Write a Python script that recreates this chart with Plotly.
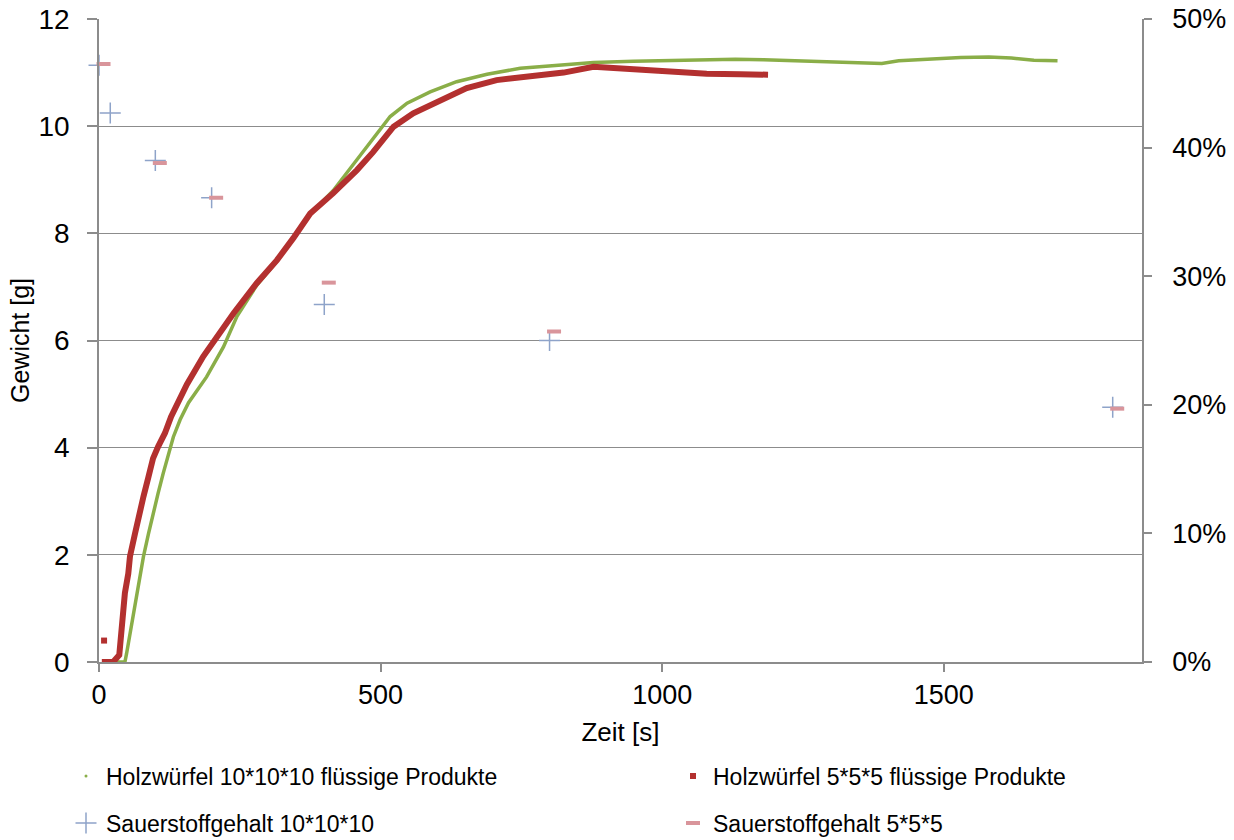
import plotly.graph_objects as go

# ---- data ----
green_t = [25, 46, 49, 55, 61, 67, 73, 79, 88, 96, 105, 114, 123, 132, 144, 159, 191, 221,
           245, 280, 316, 345, 375, 416, 458, 499, 517, 547, 588, 635, 689, 748, 813, 878,
           949, 1020, 1080, 1130, 1180, 1250, 1320, 1390, 1420, 1470, 1530, 1580, 1620, 1660, 1702]
green_w = [0.0, 0.0, 0.16, 0.54, 0.91, 1.28, 1.65, 1.97, 2.40, 2.77, 3.15, 3.52, 3.89, 4.20, 4.52, 4.84, 5.32, 5.88,
           6.45, 7.03, 7.48, 7.90, 8.36, 8.80, 9.37, 9.93, 10.18, 10.43, 10.64, 10.83, 10.97, 11.08, 11.14, 11.19,
           11.21, 11.22, 11.24, 11.25, 11.24, 11.22, 11.20, 11.17, 11.22, 11.25, 11.28, 11.29, 11.27, 11.23, 11.22]

red_t = [5, 25, 36, 40, 43, 46, 52, 55, 64, 70, 79, 88, 96, 105, 117, 128, 156, 185, 209, 239, 280,
         316, 345, 375, 416, 458, 487, 523, 558, 606, 653, 706, 766, 825, 878, 925, 973, 1020, 1079, 1139, 1188]
red_w = [0.0, 0.0, 0.13, 0.66, 0.91, 1.29, 1.65, 1.97, 2.40, 2.71, 3.09, 3.46, 3.80, 4.02, 4.27, 4.58, 5.18, 5.70,
         6.07, 6.51, 7.07, 7.50, 7.91, 8.37, 8.75, 9.18, 9.52, 9.99, 10.24, 10.49, 10.71, 10.86, 10.94, 11.00,
         11.11, 11.08, 11.04, 11.01, 10.98, 10.97, 10.96]
red_extra_t = [9]
red_extra_w = [0.40]

o2_big_t = [0, 20, 100, 200, 400, 800, 1800]
o2_big = [0.464, 0.427, 0.390, 0.361, 0.278, 0.250, 0.198]
o2_small_t = [8, 108, 208, 408, 808, 1808]
o2_small = [0.465, 0.388, 0.361, 0.295, 0.257, 0.197]

o2_ticks = [0, 0.1, 0.2, 0.3, 0.4, 0.5]
o2_ticklabels = ["0%", "10%", "20%", "30%", "40%", "50%"]

names = ["Holzwürfel 10*10*10 flüssige Produkte", "Holzwürfel 5*5*5 flüssige Produkte",
         "Sauerstoffgehalt 10*10*10", "Sauerstoffgehalt 5*5*5"]

GREEN = "#8AAE48"
RED = "#B3302F"
BLUE = "#8EA3C9"
PINK = "#D9959B"
GRID = "#8C8C8C"
FONT = "Liberation Sans, Arial, sans-serif"

fig = go.Figure()

# curves
fig.add_trace(go.Scatter(x=green_t, y=green_w, mode="lines", line=dict(color=GREEN, width=3.5),
                         showlegend=False, cliponaxis=False))
fig.add_trace(go.Scatter(x=red_t, y=red_w, mode="lines", line=dict(color=RED, width=6),
                         showlegend=False, cliponaxis=False))
fig.add_trace(go.Scatter(x=red_extra_t, y=red_extra_w, mode="markers",
                         marker=dict(symbol="square", size=6, color=RED),
                         showlegend=False, cliponaxis=False))
# oxygen
fig.add_trace(go.Scatter(x=o2_big_t, y=o2_big, yaxis="y2", mode="markers", name=names[2],
                         marker=dict(symbol="cross-thin", size=15, line=dict(color=BLUE, width=1.5)),
                         legend="legend3", cliponaxis=False))
fig.add_trace(go.Scatter(x=o2_small_t, y=o2_small, yaxis="y2", mode="markers", name=names[3],
                         marker=dict(symbol="line-ew", size=10, line=dict(color=PINK, width=4)),
                         legend="legend4", cliponaxis=False))

# legend entries for curves
fig.add_trace(go.Scatter(x=[None], y=[None], mode="markers", name=names[0],
                         marker=dict(symbol="circle", size=3, color=GREEN), legend="legend"))
fig.add_trace(go.Scatter(x=[None], y=[None], mode="markers", name=names[1],
                         marker=dict(symbol="square", size=6, color=RED), legend="legend2"))

legfont = dict(family=FONT, size=23, color="black")
def leg(x, y):
    return dict(x=x, y=y, xanchor="left", yanchor="middle", font=legfont,
                bgcolor="rgba(0,0,0,0)", borderwidth=0)

L, R, T, B = 99, 92, 19, 178
W, H = 1234, 840
pw, ph = W - L - R, H - T - B
def px2x(px): return (px - L) / pw
def py2y(py): return 1 - (py - T) / ph

XTICKF = dict(size=27)
YTICKF = dict(size=28)
NB = "\u00a0"
fig.update_layout(
    width=W, height=H,
    margin=dict(l=L, r=R, t=T, b=B, autoexpand=False),
    paper_bgcolor="white", plot_bgcolor="white",
    font=dict(family=FONT, size=24, color="black"),
    xaxis=dict(range=[0, 1852], tickvals=[0, 500, 1000, 1500], showgrid=False, zeroline=False,
               showline=True, linecolor=GRID, linewidth=1.5, ticks="outside", ticklen=8,
               tickcolor=GRID, tickwidth=1.5, tickfont=XTICKF, automargin=False,
               title=dict(text="Zeit [s]", font=dict(size=26), standoff=14)),
    yaxis=dict(range=[0, 12], tickvals=[0, 2, 4, 6, 8, 10, 12], showgrid=True, gridcolor=GRID,
               gridwidth=1.3, zeroline=False, showline=True, linecolor=GRID, linewidth=1.5,
               ticks="outside", ticklen=10, tickcolor=GRID, tickwidth=1.5, tickfont=YTICKF,
               ticklabelstandoff=12, automargin=False,
               title=dict(text="Gewicht [g]", font=dict(size=25), standoff=2)),
    yaxis2=dict(range=[0, 0.5], tickvals=o2_ticks,
                ticktext=[NB * 2 + t for t in o2_ticklabels],
                overlaying="y", side="right", showgrid=False, zeroline=False, showline=True,
                linecolor=GRID, linewidth=1.5, ticks="outside", ticklen=8, tickcolor=GRID,
                tickwidth=1.5, tickfont=dict(size=27), automargin=False),
    legend=leg(px2x(66), py2y(776)),
    legend2=leg(px2x(673), py2y(776)),
    legend3=leg(px2x(66), py2y(823)),
    legend4=leg(px2x(673), py2y(823)),
)

fig.write_html("out.html", config={"displayModeBar": False})

# remove the default page margin so the figure sits at the window's top-left corner
with open("out.html", "r", encoding="utf-8") as f:
    html = f.read()
html = html.replace("<head>", "<head><style>html,body{margin:0;padding:0;overflow:hidden;}</style>", 1)
with open("out.html", "w", encoding="utf-8") as f:
    f.write(html)
